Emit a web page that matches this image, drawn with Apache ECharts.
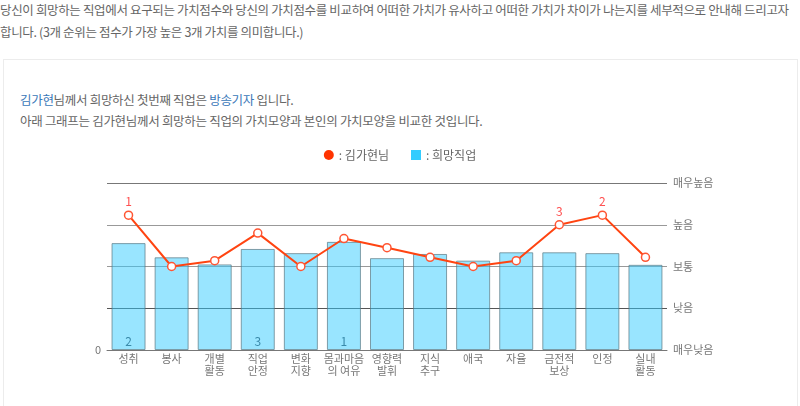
<!DOCTYPE html>
<html>
<head>
<meta charset="utf-8">
<script src="https://cdn.jsdelivr.net/npm/echarts@6/dist/echarts.min.js"></script>
<style>
  html, body { margin: 0; padding: 0; background: #fff; width: 800px; height: 406px; overflow: hidden; }
  body { font-family: "Noto Sans CJK KR", "Noto Sans", sans-serif; color: #666; }
  .intro { position: absolute; left: 0; top: -1px; font-size: 12.5px; line-height: 22px; letter-spacing: -0.35px; white-space: nowrap; color: #666; }
  .box { position: absolute; left: 3px; top: 59px; width: 795px; height: 400px; border: 1px solid #ececec; box-sizing: border-box; }
  .desc { position: absolute; left: 20px; top: 89px; font-size: 12.5px; line-height: 21px; letter-spacing: -0.3px; white-space: nowrap; color: #666; }
  .blue { color: #3a78b8; }
  #chart { position: absolute; left: 0; top: 140px; width: 800px; height: 266px; }
</style>
</head>
<body>
<div class="intro">당신이 희망하는 직업에서 요구되는 가치점수와 당신의 가치점수를 비교하여 어떠한 가치가 유사하고 어떠한 가치가 차이가 나는지를 세부적으로 안내해 드리고자<br>합니다. (3개 순위는 점수가 가장 높은 3개 가치를 의미합니다.)</div>
<div class="box"></div>
<div class="desc"><span class="blue">김가현</span>님께서 희망하신 첫번째 직업은 <span class="blue">방송기자</span> 입니다.<br>아래 그래프는 김가현님께서 희망하는 직업의 가치모양과 본인의 가치모양을 비교한 것입니다.</div>
<div id="chart"></div>
<script>
const categories = ['성취','봉사','개별\n활동','직업\n안정','변화\n지향','몸과마음\n의 여유','영향력\n발휘','지식\n추구','애국','자율','금전적\n보상','인정','실내\n활동'];
const userValues = [3.23, 2.0, 2.14, 2.8, 2.0, 2.67, 2.45, 2.22, 2.0, 2.14, 3.0, 3.23, 2.22];
const jobValues  = [2.56, 2.22, 2.05, 2.42, 2.32, 2.59, 2.2, 2.3, 2.14, 2.34, 2.34, 2.32, 2.04];
const userRanks = ['1','','','','','','','','','','3','2',''];
const jobRanks  = ['2','','','3','','1','','','','','','',''];
const levelLabels = ['매우낮음','낮음','보통','높음','매우높음'];
const seriesNames = ['김가현님','희망직업'];

const chart = echarts.init(document.getElementById('chart'));
chart.setOption({
  animation: false,
  textStyle: { fontFamily: '"Noto Sans CJK KR", sans-serif' },
  legend: {
    top: 4, left: 'center', itemGap: 22, itemWidth: 10, itemHeight: 10,
    data: [
      { name: seriesNames[0], icon: 'circle', itemStyle: { color: '#ff3300', borderWidth: 0 } },
      { name: seriesNames[1], icon: 'rect', itemStyle: { color: '#33ccff', borderWidth: 0 } }
    ],
    formatter: n => ': ' + n,
    textStyle: { color: '#666', fontSize: 12 }
  },
  grid: { left: 107, right: 133, top: 43, bottom: 56 },
  xAxis: {
    type: 'category', data: categories,
    axisLine: { show: true, lineStyle: { color: '#777' } },
    axisTick: { show: false },
    axisLabel: { color: '#777', fontSize: 11, lineHeight: 12, interval: 0, margin: 3 }
  },
  yAxis: [
    {
      type: 'value', min: 0, max: 4, interval: 1, position: 'left',
      axisLine: { show: false }, axisTick: { show: false },
      axisLabel: { color: '#777', fontSize: 11, formatter: v => v === 0 ? '0' : '' , margin: 6},
      splitLine: { show: true, lineStyle: { color: ['#777','#555','#999','#999','#777'], width: 1 } }
    },
    {
      type: 'value', min: 0, max: 4, interval: 1, position: 'right',
      axisLine: { show: false }, axisTick: { show: false },
      axisLabel: { color: '#777', fontSize: 11, margin: 6, formatter: v => levelLabels[v] || '' },
      splitLine: { show: false }
    }
  ],
  series: [
    {
      name: seriesNames[1], type: 'bar', data: jobValues, barWidth: 34,
      itemStyle: { color: 'rgba(51,204,255,0.5)', borderColor: 'rgba(90,120,130,0.7)', borderWidth: 1 },
      label: { show: true, position: 'insideBottom', distance: 3, color: '#3a8aaa', fontSize: 12,
               formatter: p => jobRanks[p.dataIndex] },
      z: 2
    },
    {
      name: seriesNames[0], type: 'line', data: userValues,
      lineStyle: { color: '#ff4411', width: 2 },
      symbol: 'circle', symbolSize: 8,
      itemStyle: { color: '#fff', borderColor: '#ff5533', borderWidth: 1.5 },
      label: { show: true, position: 'top', distance: 3, color: '#ff5050', fontSize: 12,
               formatter: p => userRanks[p.dataIndex] },
      z: 3
    }
  ]
});
</script>
</body>
</html>
